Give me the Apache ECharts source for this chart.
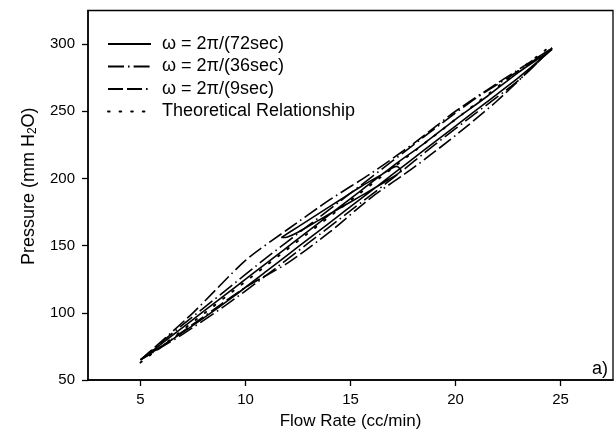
<!DOCTYPE html>
<html>
<head>
<meta charset="utf-8">
<script src="https://cdn.jsdelivr.net/npm/echarts@6/dist/echarts.min.js"></script>
<style>html,body{margin:0;padding:0;background:#fff}#c{width:616px;height:441px}</style>
</head>
<body>
<div id="c"></div>
<script>
const xTicks = [5, 10, 15, 20, 25];
const yTicks = [50, 100, 150, 200, 250, 300];
const seriesNames = ['ω = 2π/(72sec)', 'ω = 2π/(36sec)', 'ω = 2π/(9sec)', 'Theoretical Relationship'];

// 72 sec: narrow full-range loop, then a small loop (null breaks the line)
const loop72 = [
  [5,65],[6.5,83],[8,101],[9.5,119],[11,137],[12.5,155],[14,173],[15.5,191],[17,209],[18.5,226],[20,244],[21.5,261],[23,279],[24.6,296],
  [23,275],[21.5,257],[20,239],[18.5,221],[17,203],[15.5,185],[14,167],[12.5,149],[11,131],[9.5,113],[8,96],[6.5,80],[5,65],
  null,
  [11.7,156],[12.5,164],[13.5,174],[14.5,184],[15.5,194],[16.5,203],[17.2,209],[17.4,206],[16.8,199],[15.5,187],[14.5,178],[13.5,169],[12.5,160],[12,156.5],[11.7,156]
];
const loop36 = [
  [5,65],[7,91],[9,116],[11,141],[13,165],[15,189],[17,213],[19,237],[21,260],[23,280],[24.6,297],
  [23,273],[21,249],[19,225],[17,200],[15,176],[13,152],[11,128],[9,105],[7,84],[5,65]
];
const loop9 = [
  [5,65],[7.5,100],[10,139],[12,162],[14,184],[16,204],[18,226],[20,250],[22,271],[24.6,297],
  [22,258],[20,232],[18,208],[16,186],[14,160],[12,137],[10,119],[8,97],[6,75],[5,65]
];
const theoretical = [[5,63],[24.4,297]];

const FONT = 'Liberation Sans';
const chart = echarts.init(document.getElementById('c'), null, {renderer: 'canvas'});
const lineCommon = {type: 'line', showSymbol: false, symbol: 'none', smooth: 0.25, connectNulls: false, animation: false, color: '#000', itemStyle: {color: '#000'}};
chart.setOption({
  animation: false,
  grid: {left: 88, right: 3, top: 10.5, bottom: 61, show: true, borderColor: '#000', borderWidth: 1.3, containLabel: false},
  legend: {
    left: 102, top: 30, orient: 'vertical', itemWidth: 43, itemHeight: 14, itemGap: 4.5,
    data: seriesNames,
    itemStyle: {opacity: 0},
    textStyle: {fontFamily: FONT, fontSize: 18, lineHeight: 18, color: '#000', padding: [0,0,0,6]}
  },
  xAxis: {
    type: 'value', min: 2.5, max: 27.5,
    name: 'Flow Rate (cc/min)', nameLocation: 'middle', nameGap: 33,
    nameTextStyle: {fontFamily: FONT, fontSize: 17, color: '#000'},
    axisLine: {lineStyle: {color: '#000', width: 1.5}},
    axisTick: {show: true, length: 6, customValues: xTicks, lineStyle: {color: '#000', width: 1.3}},
    axisLabel: {customValues: xTicks, fontFamily: FONT, fontSize: 15, color: '#000', margin: 12},
    splitLine: {show: false}
  },
  yAxis: {
    type: 'value', min: 50, max: 325,
    name: 'Pressure (mm H{s|2}O)', nameLocation: 'middle', nameGap: 47,
    nameTextStyle: {fontFamily: FONT, fontSize: 18, color: '#000', padding: [0, 0, 0, 18],
      rich: {s: {fontFamily: FONT, fontSize: 12, color: '#000', verticalAlign: 'bottom', lineHeight: 21}}},
    axisLine: {lineStyle: {color: '#000', width: 1.5}},
    axisTick: {show: true, length: 6, customValues: yTicks, lineStyle: {color: '#000', width: 1.3}},
    axisLabel: {customValues: yTicks, fontFamily: FONT, fontSize: 15, color: '#000', margin: 13},
    splitLine: {show: false}
  },
  graphic: [{type: 'text', right: 8, top: 360, style: {text: 'a)', font: '18px "Liberation Sans"', fill: '#000'}}],
  series: [
    Object.assign({}, lineCommon, {name: seriesNames[0], data: loop72, lineStyle: {color: '#000', width: 1.6, type: 'solid'}}),
    Object.assign({}, lineCommon, {name: seriesNames[1], data: loop36, lineStyle: {color: '#000', width: 1.6, type: [16,4,1.6,4]}}),
    Object.assign({}, lineCommon, {name: seriesNames[2], data: loop9, lineStyle: {color: '#000', width: 1.6, type: [15,4,15,4,1.6,4]}}),
    Object.assign({}, lineCommon, {name: seriesNames[3], data: theoretical, smooth: false, lineStyle: {color: '#000', width: 2, type: [1.6,10], cap: 'round'}})
  ]
});
</script>
</body>
</html>
